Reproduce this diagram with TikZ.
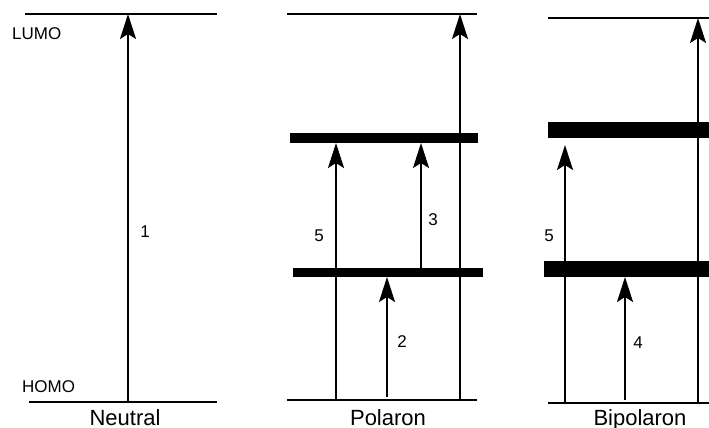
\documentclass[tikz,border=0pt]{standalone}
\usepackage{fontspec}
\setmainfont{Liberation Sans}
\usetikzlibrary{arrows.meta}
\begin{document}
\begin{tikzpicture}[x=1pt,y=-1pt,
 level/.style={line width=2pt},
 bandbox/.style={fill=black,draw=none,inner sep=0pt,outer sep=0pt},
 up/.style={line width=2pt,-{Stealth[length=25pt,width=16pt,inset=5pt]}},
 lbl/.style={font=\fontsize{17}{20}\selectfont,inner sep=0pt},
 lvl/.style={font=\fontsize{17}{20}\selectfont,inner sep=0pt,anchor=base west},
 title/.style={font=\fontsize{22}{26}\selectfont,inner sep=0pt,anchor=base},
]
\useasboundingbox (0,0) rectangle (709,428);

% ---------- Neutral ----------
\coordinate (nLa) at (25,14);  \coordinate (nLb) at (217,14);
\coordinate (nHa) at (29,402); \coordinate (nHb) at (217,402);
\draw[level] (nLa) -- (nLb);
\draw[level] (nHa) -- (nHb);
\coordinate (nA) at (128,402);
\draw[up] (nA) -- (nA |- nLa);
\node[lbl] (n1) at (145,232) {1};
\node[lvl] (lumo) at (12,40) {LUMO};
\node[lvl] (homo) at (22,392) {HOMO};
\node[title] (neutral) at (125,425.5) {Neutral};

% ---------- Polaron ----------
\coordinate (pLa) at (287,14);  \coordinate (pLb) at (477,14);
\coordinate (pHa) at (287,400); \coordinate (pHb) at (477,400);
\draw[level] (pLa) -- (pLb);
\draw[level] (pHa) -- (pHb);
\node[bandbox,minimum width=188pt,minimum height=10pt] (pU) at (384,138) {};
\node[bandbox,minimum width=190pt,minimum height=9pt] (pD) at (388,272.5) {};
\coordinate (p5) at (336,400);
\coordinate (p3) at (421,0);
\coordinate (p2) at (387,397);
\coordinate (pR) at (460,400);
\draw[up] (p5) -- (p5 |- pU.south);
\draw[up] (p3 |- pD.north) -- (p3 |- pU.south);
\draw[up] (p2) -- (p2 |- pD.south);
\draw[up] (pR) -- (pR |- pLa);
\node[lbl] (pl5) at (319,236) {5};
\node[lbl] (pl3) at (433,220) {3};
\node[lbl] (pl2) at (402,342) {2};
\node[title] (polaron) at (388,425.5) {Polaron};

% ---------- Bipolaron ----------
\coordinate (bLa) at (548,18);  \coordinate (bLb) at (712,18);
\coordinate (bHa) at (548,403); \coordinate (bHb) at (712,403);
\draw[level] (bLa) -- (bLb);
\draw[level] (bHa) -- (bHb);
\node[bandbox,minimum width=164pt,minimum height=16pt] (bU) at (630,130) {};
\node[bandbox,minimum width=168pt,minimum height=16pt] (bD) at (628,269) {};
\coordinate (b5) at (565,403);
\coordinate (b4) at (625,400);
\coordinate (bR) at (698,403);
\draw[up] (b5) -- ([yshift=-7pt]b5 |- bU.south);
\draw[up] (b4) -- (b4 |- bD.south);
\draw[up] (bR) -- (bR |- bLa);
\node[lbl] (bl5) at (549,236) {5};
\node[lbl] (bl4) at (638,343) {4};
\node[title] (bipolaron) at (640,425.5) {Bipolaron};
\end{tikzpicture}
\end{document}
